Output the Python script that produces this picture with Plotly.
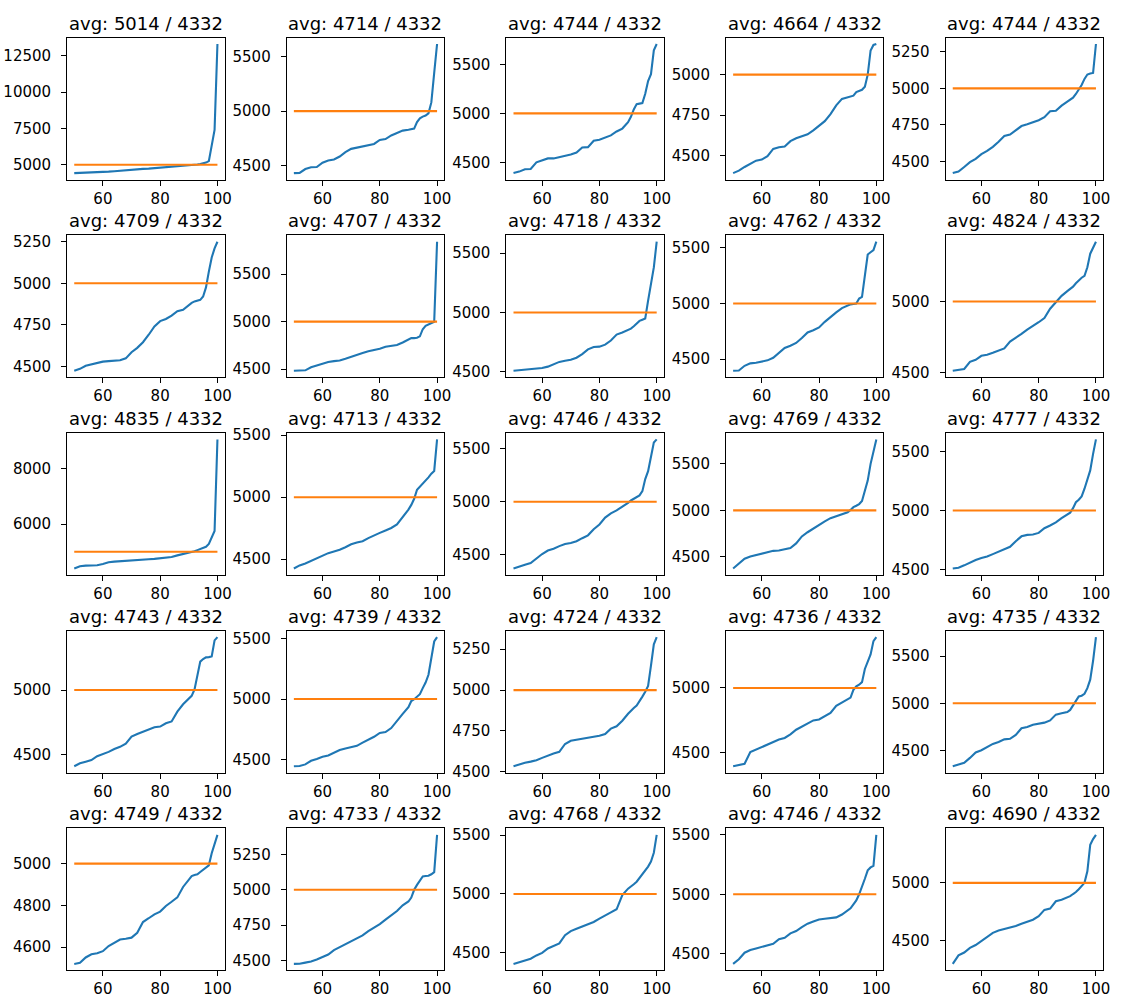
import plotly.graph_objects as go

# Percentile positions (x values shared by every panel)
PCT = [50, 52, 54, 56, 58, 60, 62, 64, 66, 68, 70, 72, 74, 76, 78, 80, 82, 84, 86, 88, 90,
       91, 92, 93, 94, 95, 96, 97, 98, 99, 100]

S01 = [4430, 4440, 4455, 4470, 4490, 4510, 4530, 4560, 4600, 4640, 4680, 4700, 4720, 4740, 4770, 4800, 4820, 4840, 4870, 4900, 4940,
       4960, 4990, 5020, 5060, 5100, 5150, 5250, 6300, 7400, 13300]
S02 = [4433, 4435, 4470, 4486, 4488, 4528, 4548, 4558, 4585, 4625, 4655, 4667, 4678, 4688, 4700, 4736, 4745, 4778, 4797, 4822, 4830,
       4835, 4840, 4900, 4935, 4950, 4960, 4980, 5080, 5350, 5615]
S03 = [4390, 4405, 4429, 4432, 4500, 4523, 4540, 4540, 4553, 4568, 4580, 4600, 4651, 4655, 4720, 4731, 4755, 4775, 4815, 4845, 4910,
       4965, 5040, 5095, 5100, 5105, 5200, 5330, 5400, 5645, 5709]
S04 = [4390, 4405, 4428, 4447, 4467, 4474, 4495, 4540, 4550, 4555, 4588, 4606, 4620, 4630, 4655, 4686, 4712, 4755, 4810, 4850, 4860,
       4864, 4870, 4892, 4900, 4906, 4925, 5000, 5150, 5184, 5190]
S05 = [4420, 4430, 4462, 4495, 4518, 4550, 4572, 4600, 4635, 4674, 4684, 4715, 4742, 4754, 4766, 4782, 4803, 4843, 4847, 4882, 4910,
       4922, 4937, 4962, 4993, 5023, 5065, 5095, 5102, 5106, 5304]
S06 = [4473, 4485, 4503, 4512, 4521, 4528, 4531, 4533, 4536, 4548, 4585, 4611, 4645, 4690, 4740, 4772, 4785, 4805, 4832, 4840, 4870,
       4882, 4891, 4896, 4900, 4920, 4975, 5070, 5155, 5210, 5250]
S07 = [4483, 4485, 4488, 4520, 4540, 4560, 4575, 4585, 4592, 4610, 4632, 4650, 4670, 4688, 4700, 4715, 4735, 4747, 4754, 4780, 4815,
       4827, 4827, 4830, 4845, 4920, 4955, 4970, 4980, 4998, 5840]
S08 = [4510, 4515, 4520, 4525, 4530, 4533, 4545, 4568, 4585, 4594, 4603, 4620, 4650, 4690, 4710, 4713, 4730, 4765, 4815, 4832, 4850,
       4865, 4885, 4910, 4930, 4940, 4950, 5100, 5230, 5380, 5596]
S09 = [4395, 4397, 4440, 4462, 4468, 4478, 4489, 4512, 4560, 4600, 4620, 4645, 4690, 4740, 4760, 4785, 4835, 4880, 4920, 4958, 4985,
       4992, 4995, 5000, 5045, 5060, 5250, 5440, 5460, 5480, 5555]
S10 = [4515, 4522, 4528, 4578, 4592, 4620, 4627, 4641, 4656, 4672, 4720, 4744, 4773, 4803, 4826, 4855, 4885, 4950, 4995, 5040, 5073,
       5086, 5104, 5128, 5150, 5167, 5180, 5240, 5335, 5380, 5419]
S11 = [4397, 4479, 4500, 4507, 4514, 4558, 4620, 4645, 4655, 4668, 4678, 4690, 4712, 4732, 4745, 4760, 4773, 4810, 4870, 4915, 4960,
       4995, 5020, 5060, 5100, 5140, 5180, 5280, 5500, 5750, 9050]
S12 = [4425, 4450, 4466, 4488, 4508, 4532, 4549, 4562, 4576, 4597, 4620, 4635, 4645, 4670, 4693, 4712, 4732, 4752, 4780, 4838, 4900,
       4938, 4987, 5060, 5085, 5105, 5131, 5160, 5190, 5212, 5466]
S13 = [4368, 4389, 4403, 4420, 4462, 4505, 4538, 4555, 4580, 4600, 4610, 4626, 4655, 4682, 4740, 4785, 4850, 4890, 4918, 4950, 4990,
       5012, 5028, 5043, 5060, 5100, 5215, 5290, 5430, 5560, 5590]
S14 = [4375, 4425, 4480, 4504, 4520, 4536, 4553, 4565, 4568, 4580, 4596, 4645, 4720, 4765, 4806, 4848, 4882, 4916, 4936, 4958, 4980,
       5005, 5035, 5050, 5068, 5100, 5200, 5320, 5500, 5650, 5763]
S15 = [4508, 4515, 4535, 4560, 4580, 4597, 4610, 4630, 4650, 4668, 4692, 4740, 4781, 4793, 4797, 4810, 4850, 4873, 4900, 4935, 4970,
       4982, 5020, 5070, 5092, 5120, 5185, 5270, 5340, 5480, 5603]
S16 = [4410, 4433, 4445, 4458, 4488, 4502, 4521, 4543, 4560, 4585, 4640, 4660, 4676, 4695, 4712, 4717, 4743, 4757, 4833, 4890, 4935,
       4955, 5005, 5100, 5220, 5240, 5253, 5255, 5260, 5385, 5410]
S17 = [4445, 4447, 4460, 4490, 4505, 4523, 4533, 4555, 4578, 4592, 4605, 4613, 4640, 4662, 4688, 4720, 4727, 4760, 4823, 4877, 4933,
       4983, 4998, 5022, 5040, 5090, 5136, 5200, 5330, 5475, 5511]
S18 = [4534, 4546, 4555, 4562, 4571, 4585, 4599, 4612, 4622, 4670, 4690, 4696, 4701, 4704, 4711, 4720, 4731, 4764, 4778, 4812, 4855,
       4876, 4890, 4905, 4930, 4960, 4990, 5025, 5150, 5280, 5324]
S19 = [4393, 4403, 4412, 4502, 4522, 4538, 4556, 4577, 4600, 4612, 4640, 4676, 4700, 4724, 4748, 4755, 4780, 4806, 4862, 4889, 4910,
       4925, 4985, 5012, 5025, 5045, 5147, 5200, 5260, 5363, 5394]
S20 = [4334, 4350, 4370, 4422, 4480, 4503, 4540, 4570, 4590, 4618, 4624, 4665, 4735, 4748, 4772, 4780, 4795, 4818, 4880, 4895, 4908,
       4930, 4980, 5035, 5072, 5080, 5100, 5160, 5250, 5450, 5700]
S21 = [4519, 4524, 4550, 4565, 4570, 4580, 4605, 4622, 4636, 4640, 4645, 4668, 4720, 4738, 4757, 4770, 4797, 4817, 4838, 4888, 4925,
       4940, 4945, 4949, 4960, 4972, 4982, 4992, 5050, 5100, 5138]
S22 = [4474, 4475, 4483, 4491, 4505, 4521, 4541, 4572, 4593, 4617, 4637, 4653, 4676, 4707, 4730, 4757, 4788, 4818, 4849, 4890, 4917,
       4945, 5000, 5035, 5065, 5095, 5098, 5100, 5110, 5125, 5390]
S23 = [4406, 4422, 4436, 4450, 4478, 4500, 4537, 4561, 4580, 4650, 4685, 4705, 4724, 4742, 4762, 4790, 4814, 4843, 4870, 4990, 5045,
       5060, 5082, 5104, 5135, 5167, 5200, 5232, 5275, 5350, 5502]
S24 = [4416, 4455, 4510, 4532, 4546, 4559, 4570, 4585, 4623, 4635, 4672, 4692, 4725, 4753, 4772, 4789, 4795, 4802, 4806, 4830, 4865,
       4882, 4915, 4948, 5000, 5060, 5130, 5200, 5225, 5238, 5498]
S25 = [4296, 4370, 4395, 4435, 4460, 4496, 4535, 4566, 4586, 4598, 4611, 4625, 4645, 4662, 4680, 4710, 4765, 4777, 4840, 4853, 4870,
       4885, 4903, 4920, 4945, 4977, 5000, 5100, 5330, 5380, 5417]

AVG = [5014, 4714, 4744, 4664, 4744, 4709, 4707, 4718, 4762, 4824, 4835, 4713, 4746, 4769, 4777,
       4743, 4739, 4724, 4736, 4735, 4749, 4733, 4768, 4746, 4690]
BASELINE = 4332
REF_LEVEL = 5000

XTICKS = [60, 80, 100]
YTICKS = [
    [5000, 7500, 10000, 12500], [4500, 5000, 5500], [4500, 5000, 5500], [4500, 4750, 5000], [4500, 4750, 5000, 5250],
    [4500, 4750, 5000, 5250], [4500, 5000, 5500], [4500, 5000, 5500], [4500, 5000, 5500], [4500, 5000],
    [6000, 8000], [4500, 5000, 5500], [4500, 5000, 5500], [4500, 5000, 5500], [4500, 5000, 5500],
    [4500, 5000], [4500, 5000, 5500], [4500, 4750, 5000, 5250], [4500, 5000], [4500, 5000, 5500],
    [4600, 4800, 5000], [4500, 4750, 5000, 5250], [4500, 5000, 5500], [4500, 5000, 5500], [4500, 5000],
]

SERIES = [S01, S02, S03, S04, S05, S06, S07, S08, S09, S10, S11, S12, S13, S14, S15,
          S16, S17, S18, S19, S20, S21, S22, S23, S24, S25]

W, H = 1128, 1005
BLUE = "#1f77b4"
ORANGE = "#ff7f0e"
FONT = "DejaVu Sans"

fig = go.Figure()
layout = dict(
    width=W, height=H, margin=dict(l=0, r=0, t=0, b=0),
    paper_bgcolor="white", plot_bgcolor="white", showlegend=False,
    font=dict(family=FONT, size=15, color="black"),
)
annotations = []

col_left0, col_step, col_w = 67.5, 221.0, 158.5
row_top0, row_step, row_h = 32.0, 200.5, 144.0

xmin, xmax = min(PCT), max(PCT)
xpad = 0.05 * (xmax - xmin)

for i, ys in enumerate(SERIES):
    r, c = divmod(i, 5)
    n = i + 1
    xa = "x" if n == 1 else f"x{n}"
    ya = "y" if n == 1 else f"y{n}"
    fig.add_trace(go.Scatter(x=PCT, y=ys, mode="lines", line=dict(color=BLUE, width=2.1),
                             xaxis=xa, yaxis=ya, hoverinfo="skip"))
    fig.add_trace(go.Scatter(x=[xmin, xmax], y=[REF_LEVEL, REF_LEVEL], mode="lines",
                             line=dict(color=ORANGE, width=2.1), xaxis=xa, yaxis=ya, hoverinfo="skip"))
    left = col_left0 + c * col_step
    top = row_top0 + r * row_step
    lo = min(min(ys), REF_LEVEL)
    hi = max(max(ys), REF_LEVEL)
    pad = 0.05 * (hi - lo)
    axcommon = dict(showline=True, linecolor="black", linewidth=1, mirror=True,
                    ticks="outside", ticklen=5, tickwidth=1, tickcolor="black",
                    showgrid=False, zeroline=False, tickfont=dict(family=FONT, size=15, color="black"))
    xkey = "xaxis" if n == 1 else f"xaxis{n}"
    ykey = "yaxis" if n == 1 else f"yaxis{n}"
    layout[xkey] = dict(axcommon, domain=[left / W, (left + col_w) / W], anchor=ya,
                        range=[xmin - xpad, xmax + xpad], tickvals=XTICKS,
                        ticktext=[str(v) for v in XTICKS])
    layout[ykey] = dict(axcommon, domain=[1 - (top + row_h) / H, 1 - top / H], anchor=xa,
                        range=[lo - pad, hi + pad], tickvals=YTICKS[i],
                        ticktext=[str(v) for v in YTICKS[i]], ticklabelstandoff=7)
    annotations.append(dict(text=f"avg: {AVG[i]} / {BASELINE}", xref="paper", yref="paper",
                            x=(left + col_w / 2) / W, y=1 - top / H, xanchor="center", yanchor="bottom",
                            yshift=2, showarrow=False, font=dict(family=FONT, size=18, color="black")))

layout["annotations"] = annotations
fig.update_layout(**layout)
fig.write_html("out.html")
